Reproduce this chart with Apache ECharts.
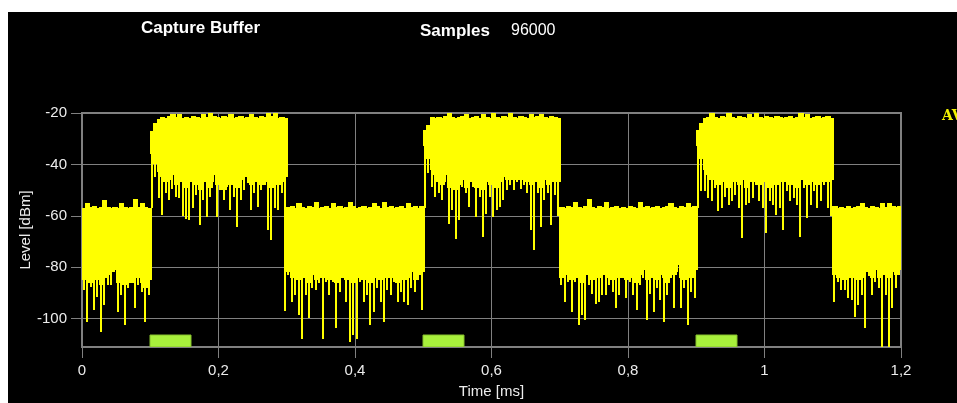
<!DOCTYPE html>
<html><head><meta charset="utf-8">
<script src="https://cdn.jsdelivr.net/npm/echarts@6/dist/echarts.min.js"></script>
<style>html,body{margin:0;padding:0;background:#000;}#c{width:957px;height:403px;}</style>
</head><body><div id="c"></div>
<script>
// time bins (ms)
const binStart = 0;
const binStep = 0.005;
// top of trace per bin (dBm)
const hi = [
 -57,-55,-56.5,-56,-57,-56.5,-54,-56.5,-57,-56.5,-57,-55,-56.5,-57,-56.5,-53.5,-56.5,-55,-56.5,-57,
 -27,-24,-22.5,-21.5,-22,-21,-20.5,-21.5,-20.5,-22,-21.5,-22,-21,-21.5,-22,-20.5,-21.5,-20,-21,-21.5,
 -22,-21,-21.5,-20.5,-22,-21.5,-21,-22,-21.5,-20.5,-21.5,-22,-21,-21.5,-20,-21,-20,-22,-21.5,-22,
 -56.5,-56,-57,-55,-56.5,-57,-56,-56.5,-54.5,-57,-56.5,-56,-57,-55,-56.5,-56,-57,-56.5,-54.5,-56,
 -57,-56.5,-56,-57,-56.5,-55,-56,-57,-54.5,-56.5,-56,-57,-56.5,-56,-57,-55,-56.5,-56,-57,-56,
 -26.5,-24.5,-21.5,-22,-21.5,-22,-21,-20,-21.5,-22,-21.5,-21,-20.5,-22,-21.5,-21,-22,-20.5,-21.5,-22,
 -20,-21.5,-22,-21,-21.5,-20,-21.5,-22,-21,-21.5,-22,-20.5,-21.5,-21,-20.5,-21.5,-22,-21,-21.5,-22,
 -56.5,-57,-56,-56.5,-54.5,-56.5,-57,-56,-53.5,-56.5,-57,-56,-56.5,-54.5,-57,-56.5,-56,-57,-56.5,-57,
 -56,-56.5,-57,-54.5,-56.5,-56,-57,-56.5,-56,-57,-56.5,-56,-55,-56.5,-57,-56,-56.5,-55,-56.5,-56,
 -26.5,-24,-22,-21.5,-20,-21.5,-22,-21,-21.5,-20,-21.5,-22,-21,-21.5,-22,-20.5,-21.5,-20,-21.5,-22,
 -21,-21.5,-22,-21,-21.5,-22,-21.5,-21,-22,-21.5,-20,-21.5,-20.5,-22,-21.5,-21,-22,-21.5,-21,-22,
 -56,-57,-56.5,-57,-56,-57,-56.5,-56,-55,-56.5,-57,-56,-56.5,-57,-55,-56.5,-55,-56,-56.5,-56
];
// lower edge of the dense band per bin (dBm)
const mid = [
 -85,-84,-86,-83,-85,-87,-84,-83,-82,-81,-86,-84,-87,-85,-86,-80,-84,-86,-88,-85,
 -36,-40,-43,-45,-47,-46,-44,-48,-47,-45,-49,-47,-46,-48,-50,-47,-46,-49,-44,-48,
 -47,-50,-46,-48,-47,-49,-46,-45,-44,-48,-47,-46,-48,-45,-47,-49,-46,-48,-47,-45,
 -82,-84,-83,-85,-82,-84,-86,-83,-85,-81,-84,-82,-85,-83,-86,-84,-82,-85,-83,-86,
 -84,-82,-85,-83,-86,-84,-82,-85,-83,-84,-82,-84,-86,-83,-85,-84,-82,-85,-83,-82,
 -33,-38,-42,-44,-47,-48,-44,-49,-47,-50,-48,-46,-49,-47,-45,-49,-48,-50,-47,-48,
 -46,-49,-47,-45,-46,-44,-46,-44,-46,-45,-47,-48,-46,-47,-49,-46,-48,-47,-45,-47,
 -84,-82,-83,-85,-81,-84,-86,-83,-82,-85,-81,-84,-83,-80,-84,-85,-83,-84,-81,-85,
 -82,-84,-86,-83,-81,-85,-84,-82,-85,-83,-84,-86,-81,-83,-79,-84,-85,-83,-84,-81,
 -33,-38,-42,-44,-46,-45,-48,-46,-47,-49,-44,-47,-48,-46,-49,-45,-47,-44,-48,-47,
 -46,-49,-47,-48,-46,-47,-45,-48,-47,-49,-46,-45,-48,-47,-46,-48,-47,-44,-47,-46,
 -83,-84,-82,-85,-83,-84,-82,-85,-84,-79,-82,-84,-81,-84,-81,-83,-84,-82,-83,-81
];
// deepest spike per bin (dBm)
const lo = [
 -88.9,-101.2,-87.5,-96.7,-91.5,-105.1,-94.7,-86.9,-86.9,-81.7,-97.3,-90.8,-102.5,-88.2,-86,-96,-86.9,-89.5,-101.2,-90.8,
 -57,-45,-53.1,-59.6,-51.3,-54,-49.4,-52.6,-53.1,-60,-61.3,-61.7,-57,-52,-63.5,-54,-60.6,-52.6,-46.8,-60.6,
 -50,-54,-48.7,-57.8,-52.6,-64.3,-54,-50,-47.4,-57.8,-51.3,-56.5,-50,-48,-65.6,-69.5,-57,-57.8,-51.3,-97,
 -83,-93.4,-90.8,-98.6,-107.7,-90.8,-99.9,-88.2,-88.9,-86,-107.7,-85.6,-90.8,-85.6,-103.8,-89.5,-84,-93.4,-109,-106.4,
 -107.7,-85.6,-93.4,-90.8,-102.5,-97.3,-88.2,-93.4,-101.2,-88.9,-90.8,-85.6,-93.4,-89.5,-93.4,-94.7,-88.2,-89.5,-85,-96.7,
 -57,-43.5,-48.7,-52.6,-51.3,-53.9,-47,-63,-57.8,-68.9,-61.7,-48.7,-51.3,-56.5,-48.7,-60.4,-52.6,-68.2,-59.1,-52.6,
 -60.4,-57.8,-56.5,-53.9,-50,-48.1,-50,-46.8,-49.4,-48,-51.3,-65.6,-73.4,-51.3,-64.3,-53.9,-51.3,-63.7,-52,-60,
 -86.9,-93.4,-85.6,-97.3,-85.6,-102.5,-98.6,-100.6,-86.9,-90.2,-94.1,-93.4,-90.8,-90.8,-86.9,-89.5,-96,-90.8,-84,-92.1,
 -85.6,-90.8,-96.7,-86.9,-84,-100.6,-90.2,-97.3,-88.2,-92.8,-101.2,-90.8,-84,-96,-82,-96,-88.2,-102.5,-89.5,-92.1,
 -57,-50.5,-50.5,-53.1,-54.4,-49.2,-58.3,-57,-52.5,-55.7,-54.4,-51.8,-57,-68.7,-55.7,-55.1,-53.1,-47.9,-54.4,-57,
 -66.8,-54.4,-55.7,-59.6,-57,-65.5,-50.5,-54.4,-53.1,-55.7,-68.1,-49.2,-60.9,-55.7,-50.5,-57,-54.4,-47.9,-57,-60,
 -93.4,-85.6,-88.9,-88.9,-92.1,-92.8,-99.3,-94.7,-90.8,-103.8,-83.5,-90.8,-85.6,-88.2,-111,-90.8,-111,-96,-88.2,-83
];
// trigger gates
const gateStart = [0.1, 0.5, 0.9];
const gateEnd = [0.16, 0.56, 0.96];
const gateTop = -106.3;
// axes
const yMin = -111, yMax = -20;
const yTicks = [-100, -80, -60, -40, -20];
const xMin = 0, xMax = 1.2, xStep = 0.2;
const titleText = 'Capture Buffer';
const samplesLabel = 'Samples';
const samplesValue = '96000';
const xName = 'Time [ms]';
const yName = 'Level [dBm]';

const traceData = hi.map((h, i) => [binStart + i * binStep, binStart + (i + 1) * binStep, h, mid[i], lo[i]]);
const gateData = gateStart.map((s, i) => [s, gateEnd[i], gateTop]);

const chart = echarts.init(document.getElementById('c'), null, {renderer: 'canvas'});
const lblFont = 'Liberation Sans, Arial, sans-serif';
chart.setOption({
  backgroundColor: '#000',
  animation: false,
  grid: {left: 82, top: 113, width: 819, height: 234, show: true, borderColor: '#808080', borderWidth: 2, backgroundColor: 'transparent'},
  xAxis: {
    type: 'value', min: xMin, max: xMax, interval: xStep,
    axisLine: {show: false},
    axisTick: {show: true, length: 11, lineStyle: {color: '#808080', width: 1}},
    axisLabel: {color: '#ececec', fontSize: 15, fontFamily: lblFont, margin: 16,
      formatter: v => String(Math.round(v * 10) / 10).replace('.', ',')},
    splitLine: {show: true, lineStyle: {color: '#808080', width: 1}}
  },
  yAxis: {
    type: 'value', min: yMin, max: yMax, splitNumber: 5,
    axisLine: {show: false},
    axisTick: {show: true, length: 11, customValues: yTicks, lineStyle: {color: '#808080', width: 1}},
    axisLabel: {color: '#ececec', fontSize: 15, fontFamily: lblFont, margin: 15, customValues: yTicks,
      formatter: v => (yTicks.indexOf(Math.round(v)) >= 0 ? String(Math.round(v)) : '')},
    splitLine: {show: true, lineStyle: {color: '#808080', width: 1}}
  },
  series: [
    {
      type: 'custom', clip: true, silent: true,
      encode: {x: [0, 1], y: [2, 3, 4]},
      data: traceData,
      renderItem: (params, api) => {
        const a = api.coord([api.value(0), api.value(2)]);
        const b = api.coord([api.value(1), api.value(3)]);
        const c = api.coord([api.value(0), api.value(4)]);
        const x0 = Math.floor(a[0]), x1 = Math.ceil(b[0]) + 1;
        const xc = Math.round((a[0] + b[0]) / 2);
        const yTop = Math.round(a[1]), yMid = Math.round(b[1]), yLo = Math.round(c[1]);
        return {type: 'group', children: [
          {type: 'rect', shape: {x: x0, y: yTop, width: x1 - x0, height: yMid - yTop}, style: {fill: '#ffff00', stroke: null}},
          {type: 'rect', shape: {x: xc - 1, y: yMid - 1, width: 2, height: Math.max(0, yLo - yMid + 1)}, style: {fill: '#ffff00', stroke: null}}
        ]};
      }
    },
    {
      type: 'custom', clip: true, silent: true,
      encode: {x: [0, 1], y: 2},
      data: gateData,
      renderItem: (params, api) => {
        const a = api.coord([api.value(0), api.value(2)]);
        const b = api.coord([api.value(1), yMin]);
        return {type: 'rect', shape: {x: Math.round(a[0]), y: Math.round(a[1]), width: Math.round(b[0] - a[0]), height: Math.round(b[1] - a[1])},
          style: {fill: '#a8f03c', stroke: '#86c02c', lineWidth: 1}};
      }
    }
  ],
  graphic: [
    {type: 'rect', shape: {x: 0, y: 0, width: 957, height: 12}, style: {fill: '#ffffff'}, silent: true},
    {type: 'rect', shape: {x: 0, y: 0, width: 8, height: 403}, style: {fill: '#ffffff'}, silent: true},
    {type: 'text', x: 141, y: 28, style: {text: titleText, fill: '#ffffff', font: 'bold 17px Liberation Sans, Arial, sans-serif', textVerticalAlign: 'middle'}},
    {type: 'text', x: 420, y: 31, style: {text: samplesLabel, fill: '#ffffff', font: 'bold 17px Liberation Sans, Arial, sans-serif', textVerticalAlign: 'middle'}},
    {type: 'text', x: 511, y: 31, style: {text: samplesValue, fill: '#ffffff', font: '16px Liberation Sans, Arial, sans-serif', textVerticalAlign: 'middle'}},
    {type: 'text', x: 491.5, y: 392, style: {text: xName, fill: '#ececec', font: '15px Liberation Sans, Arial, sans-serif', textAlign: 'center', textVerticalAlign: 'middle'}},
    {type: 'text', x: 26, y: 230, rotation: Math.PI / 2, style: {text: yName, fill: '#ececec', font: '15px Liberation Sans, Arial, sans-serif', textAlign: 'center', textVerticalAlign: 'middle'}},
    {type: 'text', x: 942, y: 116, style: {text: 'AV', fill: '#f0f000', font: 'bold 14px DejaVu Serif, serif', textVerticalAlign: 'middle'}}
  ]
});
</script></body></html>
